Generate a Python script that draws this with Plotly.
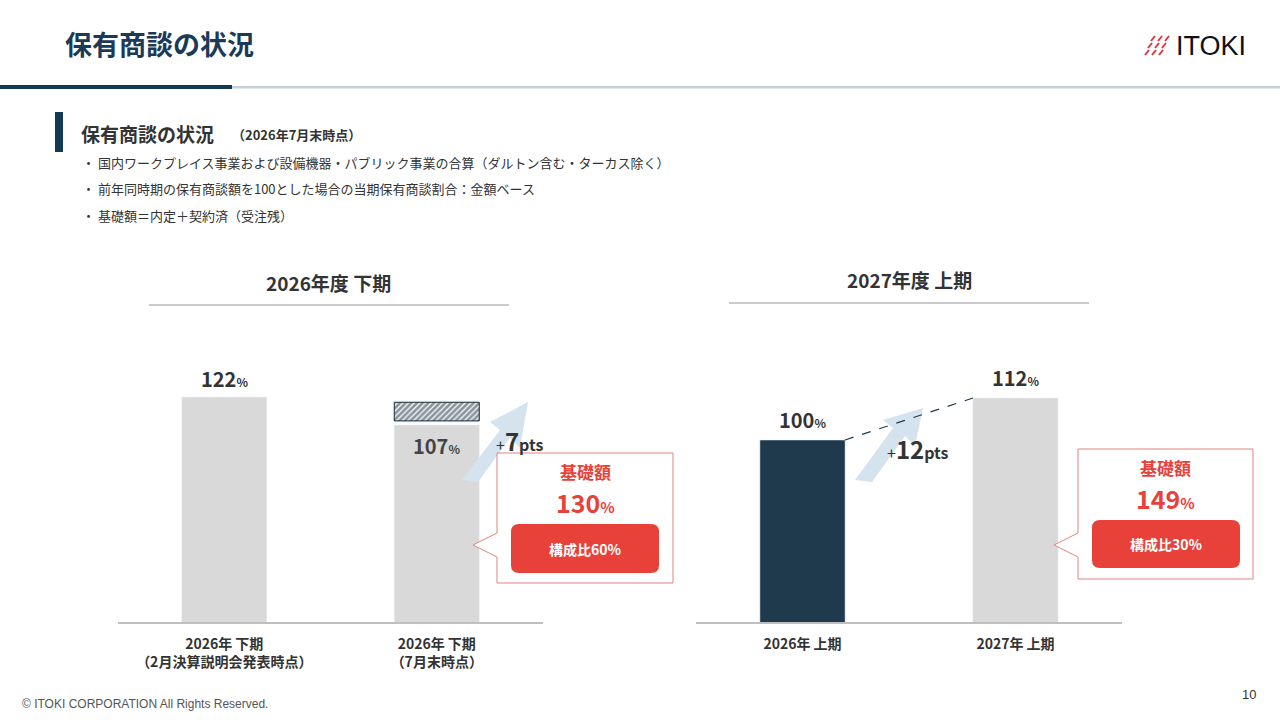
import plotly.graph_objects as go

left_cats = ["2026年 下期<br>（2月決算説明会発表時点）", "2026年 下期<br>（7月末時点）"]
left_vals = [122, 107]
left_labels = ["122", "107"]
hatch_base = [None, 109.2]
hatch_height = [None, 10.0]
right_cats = ["2026年 上期", "2027年 上期"]
right_vals = [100, 112]
right_labels = ["100", "112"]

NAVY = "#1f3a4d"
GRAY = "#d9d9d9"
RED = "#e8413a"
TXT = "#333333"
F = "Noto Sans CJK JP"

fig = go.Figure()
fig.add_bar(x=left_cats, y=left_vals, marker_color=GRAY, xaxis="x", yaxis="y",
            hoverinfo="skip")
fig.add_bar(x=left_cats, y=hatch_height, base=hatch_base, xaxis="x", yaxis="y",
            marker=dict(color="white", line=dict(color="#102a3a", width=1),
                        pattern=dict(shape="/", fgcolor="#102a3a", bgcolor="white", size=4, solidity=0.7)),
            hoverinfo="skip")
fig.add_bar(x=right_cats, y=right_vals, marker_color=[NAVY, GRAY], xaxis="x2", yaxis="y2",
            hoverinfo="skip")

yb = (720 - 622) / 720
yt = (720 - 340) / 720
fig.update_layout(
    width=1280, height=720, margin=dict(l=0, r=0, t=0, b=0),
    paper_bgcolor="white", plot_bgcolor="rgba(0,0,0,0)", showlegend=False,
    barmode="overlay", bargap=0.6, font=dict(family=F, color=TXT),
    xaxis=dict(domain=[118/1280, 543/1280], showline=True, linecolor="#bfbfbf", linewidth=1.5,
               ticks="", ticklabelstandoff=8, anchor="y"),
    yaxis=dict(domain=[yb, yt], range=[1.5, 1.5 + 282/1.867], visible=False, showgrid=False),
    xaxis2=dict(domain=[696/1280, 1122/1280], showline=True, linecolor="#bfbfbf", linewidth=1.5,
                ticks="", ticklabelstandoff=8, anchor="y2"),
    yaxis2=dict(domain=[yb, yt], range=[48, 48 + 282/3.5], visible=False, showgrid=False),
)

def px(x): return x/1280
def py(y): return 1 - y/720

shapes = []
ann = []
def T(x, y, text, size, color=TXT, xa="center", ya="middle", family=None):
    f = dict(size=size, color=color)
    if family: f["family"] = family
    ann.append(dict(x=px(x), y=py(y), text=text, font=f, xanchor=xa, yanchor=ya,
                    showarrow=False, xref="paper", yref="paper"))

# header
T(63, 43, "<b>保有商談の状況</b>", 27, "#1b3a57", xa="left")
shapes.append(dict(type="rect", x0=0, x1=px(232), y0=py(85), y1=py(89), fillcolor="#123a52", line_width=0,
                   xref="paper", yref="paper"))
shapes.append(dict(type="rect", x0=px(232), x1=1, y0=py(86), y1=py(88.5), fillcolor="#c5d0da", line_width=0,
                   xref="paper", yref="paper"))
# logo
for r in range(3):
    for c in range(3):
        x0 = 1145 + c*7 + (2-r)*3
        y0 = 36 + r*7
        shapes.append(dict(type="line", x0=px(x0), y0=py(y0+5), x1=px(x0+4), y1=py(y0), line=dict(color="#d9363e", width=2),
                           xref="paper", yref="paper"))
T(1174, 46, "ITOKI", 27, "#111", xa="left", family="Liberation Sans")
# section
shapes.append(dict(type="rect", x0=px(55), x1=px(63), y0=py(152), y1=py(112), fillcolor="#123a52", line_width=0,
                   xref="paper", yref="paper"))
T(79, 133, "<b>保有商談の状況</b>", 19, xa="left")
T(230, 134, "<b>（2026年7月末時点）</b>", 13, xa="left")
for i, t in enumerate(["・ 国内ワークプレイス事業および設備機器・パブリック事業の合算（ダルトン含む・ターカス除く）",
                       "・ 前年同時期の保有商談額を100とした場合の当期保有商談割合：金額ベース",
                       "・ 基礎額＝内定＋契約済（受注残）"]):
    T(80, 163 + 26*i, t, 13, xa="left")
# chart titles
T(328, 283, "<b>2026年度 下期</b>", 19)
shapes.append(dict(type="line", x0=px(149), x1=px(509), y0=py(305), y1=py(305), line=dict(color="#999", width=1),
                   xref="paper", yref="paper"))
T(909, 280, "<b>2027年度 上期</b>", 19)
shapes.append(dict(type="line", x0=px(729), x1=px(1089), y0=py(303), y1=py(303), line=dict(color="#999", width=1),
                   xref="paper", yref="paper"))
# value labels
ann.append(dict(x=left_cats[0], y=left_vals[0], xref="x", yref="y", xanchor="center", yanchor="bottom", yshift=2,
                text=f"<b>{left_labels[0]}<span style='font-size:12px'>%</span></b>", font=dict(size=20, color=TXT), showarrow=False))
ann.append(dict(x=left_cats[1], y=left_vals[1], xref="x", yref="y", xanchor="center", yanchor="top", yshift=-4,
                text=f"<b>{left_labels[1]}<span style='font-size:12px'>%</span></b>", font=dict(size=20, color="#444"), showarrow=False))
for i in range(2):
    ann.append(dict(x=right_cats[i], y=right_vals[i], xref="x2", yref="y2", xanchor="center", yanchor="bottom", yshift=4,
                    text=f"<b>{right_labels[i]}<span style='font-size:12px'>%</span></b>", font=dict(size=20, color=TXT), showarrow=False))
# arrows
ARW = "#d5e3ee"
def arrow(pts):
    d = "M " + " L ".join(f"{px(x)},{py(y)}" for x, y in pts) + " Z"
    shapes.append(dict(type="path", path=d, fillcolor=ARW, line_width=0, xref="paper", yref="paper"))
arrow([(462, 480), (500, 430), (490, 422), (528, 402), (520, 448), (510, 438), (478, 482)])
arrow([(855, 480), (893, 428), (883, 420), (923, 408), (915, 446), (905, 436), (872, 482)])
T(494, 440, "+<b><span style='font-size:24px'>7</span>pts</b>", 16, xa="left")
T(885, 448, "+<b><span style='font-size:24px'>12</span>pts</b>", 16, xa="left")
shapes.append(dict(type="line", x0=px(845), y0=py(440), x1=px(973), y1=py(398), line=dict(color=NAVY, width=1.2, dash="dash"),
                   xref="paper", yref="paper"))
# callouts
def callout(x0, y0, x1, y1, tipx, tipy, main, sub, bx0, by0, bx1, by1):
    d = (f"M {px(x0)},{py(y0)} L {px(x1)},{py(y0)} L {px(x1)},{py(y1)} L {px(x0)},{py(y1)} "
         f"L {px(x0)},{py(tipy+12)} L {px(tipx)},{py(tipy)} L {px(x0)},{py(tipy-12)} Z")
    shapes.append(dict(type="path", path=d, fillcolor="white", line=dict(color="#e0857f", width=1),
                       xref="paper", yref="paper"))
    r = 8
    rr = (f"M {px(bx0+r)},{py(by0)} L {px(bx1-r)},{py(by0)} Q {px(bx1)},{py(by0)} {px(bx1)},{py(by0+r)} "
          f"L {px(bx1)},{py(by1-r)} Q {px(bx1)},{py(by1)} {px(bx1-r)},{py(by1)} L {px(bx0+r)},{py(by1)} "
          f"Q {px(bx0)},{py(by1)} {px(bx0)},{py(by1-r)} L {px(bx0)},{py(by0+r)} Q {px(bx0)},{py(by0)} {px(bx0+r)},{py(by0)} Z")
    shapes.append(dict(type="path", path=rr, fillcolor=RED, line_width=0, xref="paper", yref="paper"))
    cx = (x0 + x1) / 2
    T(cx, y0 + 18, "<b>基礎額</b>", 17, RED)
    T(cx, y0 + 49, f"<b>{main}<span style='font-size:15px'>%</span></b>", 25, RED)
    T((bx0+bx1)/2, (by0+by1)/2, f"<b>構成比{sub}%</b>", 14, "white")
callout(497, 453, 673, 583, 473, 545, "130", "60", 511, 524, 659, 573)
callout(1078, 449, 1253, 579, 1054, 545, "149", "30", 1092, 520, 1240, 568)
# footer
T(20, 704, "© ITOKI CORPORATION All Rights Reserved.", 12, "#555", xa="left", family="Liberation Sans")
T(1258, 694, "10", 13, "#333", xa="right", family="Liberation Sans")

fig.update_layout(shapes=shapes, annotations=ann)
fig.update_xaxes(tickfont=dict(size=14, color=TXT, family=F, weight="bold"))
fig.write_html("out.html", config={"displayModeBar": False},
               post_script="document.body.style.margin='0';document.body.style.overflow='hidden';")
